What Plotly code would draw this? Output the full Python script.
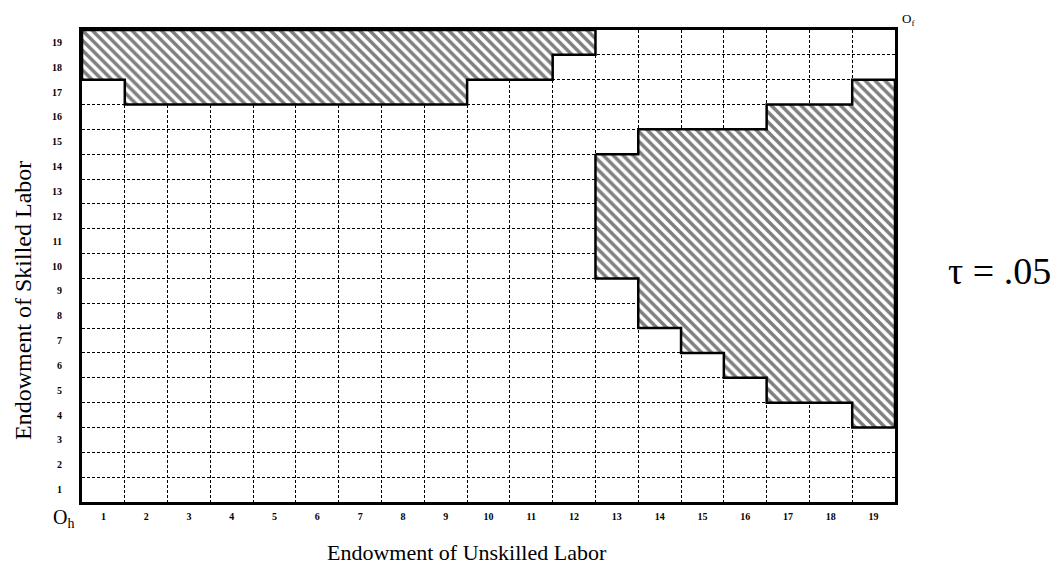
import plotly.graph_objects as go

# ---- data ----
n_cells = 19
tick_labels = [str(i) for i in range(1, 20)]

# Top-left hatched region: columns 1..12, lowest hatched row (top row is 19)
top_cols = list(range(1, 13))
top_low_row = [18, 17, 17, 17, 17, 17, 17, 17, 17, 18, 18, 19]

# Right hatched region: columns 13..19, lowest and highest hatched rows
right_cols = [13, 14, 15, 16, 17, 18, 19]
right_low_row = [10, 8, 7, 6, 5, 5, 4]
right_high_row = [14, 15, 15, 15, 16, 16, 17]

tau_label = "τ = .05"
x_title = "Endowment of Unskilled Labor"
y_title = "Endowment of Skilled Labor"

# ---- build step outlines ----
def top_polygon(cols, lows, top):
    xs = [cols[0] - 0.5, cols[-1] + 0.5]
    ys = [top + 0.5, top + 0.5]
    for c, lo in zip(reversed(cols), reversed(lows)):
        xs += [c + 0.5, c - 0.5]
        ys += [lo - 0.5, lo - 0.5]
    xs.append(xs[0]); ys.append(ys[0])
    return xs, ys

def band_polygon(cols, lows, highs):
    xs, ys = [], []
    for c, hi in zip(cols, highs):
        xs += [c - 0.5, c + 0.5]
        ys += [hi + 0.5, hi + 0.5]
    for c, lo in zip(reversed(cols), reversed(lows)):
        xs += [c + 0.5, c - 0.5]
        ys += [lo - 0.5, lo - 0.5]
    xs.append(xs[0]); ys.append(ys[0])
    return xs, ys

pattern = dict(shape="\\", fgcolor="black", bgcolor="white", size=7, solidity=0.5)

fig = go.Figure()
tx, ty = top_polygon(top_cols, top_low_row, n_cells)
fig.add_trace(go.Scatter(x=tx, y=ty, mode="lines", fill="toself",
                         fillcolor="white", fillpattern=pattern,
                         line=dict(color="black", width=2.5), hoverinfo="skip",
                         showlegend=False))
rx, ry = band_polygon(right_cols, right_low_row, right_high_row)
fig.add_trace(go.Scatter(x=rx, y=ry, mode="lines", fill="toself",
                         fillcolor="white", fillpattern=pattern,
                         line=dict(color="black", width=2.5), hoverinfo="skip",
                         showlegend=False))

serif = "Liberation Serif, Times New Roman, serif"
tickfont = dict(family=serif, size=10, color="black", weight="bold")

axis_common = dict(
    range=[0.5, n_cells + 0.5],
    tickmode="array",
    tickvals=list(range(1, n_cells + 1)),
    ticktext=tick_labels,
    tickfont=tickfont,
    showgrid=False,
    zeroline=False,
    automargin=False,
    showline=True, linecolor="black", linewidth=3, mirror=True,
    ticks="outside", tickcolor="rgba(0,0,0,0)",
    minor=dict(tick0=0.5, dtick=1, showgrid=True, gridcolor="black",
               gridwidth=1, griddash="3px,2px", ticks=""),
    fixedrange=True,
)

fig.update_xaxes(**axis_common, ticklen=3)
fig.update_yaxes(**axis_common, ticklen=15)

def note(text, x, y, size, **kw):
    fig.add_annotation(x=x, y=y, xref="paper", yref="paper", text=text,
                       showarrow=False, font=dict(family=serif, size=size, color="black"),
                       **kw)

note(x_title, 0.4736, -0.108, 22, xanchor="center", yanchor="middle")
note(y_title, -0.0726, 0.428, 24, xanchor="center", yanchor="middle", textangle=-90)
note("O<sub>h</sub>", -0.038, -0.034, 20, xanchor="left", yanchor="middle")
note("O<sub>f</sub>", 1.006, 1.022, 13, xanchor="left", yanchor="middle")
note(tau_label, 1.129, 0.49, 38, xanchor="center", yanchor="middle")

# page body has an 8px margin, so the figure is sized to fit inside the window
fig.update_layout(
    width=1056, height=559,
    margin=dict(l=74, r=169, t=22, b=65),
    paper_bgcolor="white", plot_bgcolor="white",
)

fig.write_html("out.html")
